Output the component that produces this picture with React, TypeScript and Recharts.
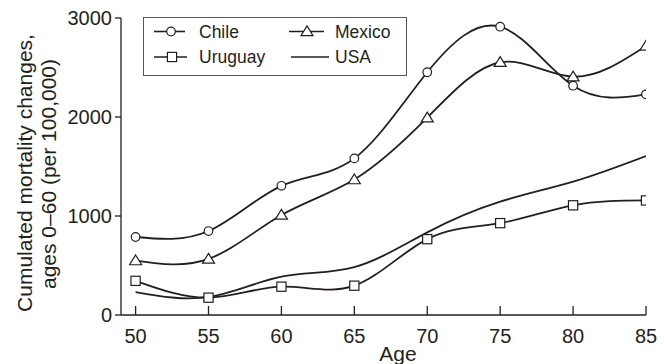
import React from 'react';
import { LineChart, Line, XAxis, YAxis } from 'recharts';

const ages = [50, 55, 60, 65, 70, 75, 80, 85];
const chile = [788, 848, 1305, 1582, 2452, 2912, 2316, 2229];
const mexico = [550, 566, 1010, 1368, 1993, 2553, 2407, 2717];
const uruguay = [345, 175, 286, 296, 766, 928, 1108, 1157];
const usa = [232, 182, 387, 484, 835, 1145, 1347, 1606];

const xTicks = [50, 55, 60, 65, 70, 75, 80, 85];
const yTicks = [0, 1000, 2000, 3000];
const seriesNames = ['Chile', 'Mexico', 'Uruguay', 'USA'];
const yLabelLines = ['Cumulated mortality changes,', 'ages 0\u201360 (per 100,000)'];
const xLabel = 'Age';

const FONT = '"Liberation Sans", Arial, Helvetica, sans-serif';
const INK = '#231f20';

const data = ages.map((age, i) => ({
  age,
  chile: chile[i],
  mexico: mexico[i],
  uruguay: uruguay[i],
  usa: usa[i],
}));

const CircleMark = ({ cx, cy }: any) => (
  <circle cx={cx} cy={cy} r={4.3} fill="#fff" stroke={INK} strokeWidth={1.2} />
);
const SquareMark = ({ cx, cy }: any) => (
  <rect x={cx - 4.6} y={cy - 4.6} width={9.2} height={9.2} fill="#fff" stroke={INK} strokeWidth={1.2} />
);
const TriangleMark = ({ cx, cy }: any) => {
  const h = 5.6;
  return (
    <polygon
      points={`${cx},${cy - h} ${cx + 6},${cy + h * 0.75} ${cx - 6},${cy + h * 0.75}`}
      fill="#fff"
      stroke={INK}
      strokeWidth={1.2}
    />
  );
};

const XTick = (props: any) => {
  const { x, y, payload } = props;
  return (
    <g>
      <line x1={x} y1={y} x2={x} y2={y - 9} stroke={INK} strokeWidth={1.3} />
      <text x={x} y={y + 28} textAnchor="middle" fontSize={20} fill={INK} fontFamily={FONT}>
        {payload.value}
      </text>
    </g>
  );
};

const YLabel = () => (
  <g>
    <text
      transform="translate(32,173) rotate(-90)"
      textAnchor="middle"
      fontSize={21}
      fill={INK}
      fontFamily={FONT}
    >
      {yLabelLines[0]}
    </text>
    <text
      transform="translate(56,174) rotate(-90)"
      textAnchor="middle"
      fontSize={21}
      fill={INK}
      fontFamily={FONT}
    >
      {yLabelLines[1]}
    </text>
  </g>
);

const XLabel = () => (
  <text x={398} y={361} textAnchor="middle" fontSize={21} fill={INK} fontFamily={FONT}>
    {xLabel}
  </text>
);

const LegendBox = () => {
  const r1 = 14.5;
  const r2 = 40;
  const fs = 17.5;
  const ty = 6;
  return (
    <svg width={265} height={60} style={{ display: 'block' }}>
      <rect x={0.5} y={0.5} width={263} height={58} fill="#fff" stroke="#555" strokeWidth={1} />
      <line x1={11} y1={r1} x2={42} y2={r1} stroke={INK} strokeWidth={1.6} />
      <CircleMark cx={28} cy={r1} />
      <text x={56} y={r1 + ty} fontSize={fs} fill={INK} fontFamily={FONT}>{seriesNames[0]}</text>
      <line x1={11} y1={r2} x2={44} y2={r2} stroke={INK} strokeWidth={1.6} />
      <SquareMark cx={29} cy={r2} />
      <text x={56} y={r2 + ty} fontSize={fs} fill={INK} fontFamily={FONT}>{seriesNames[2]}</text>
      <line x1={146} y1={r1} x2={181} y2={r1} stroke={INK} strokeWidth={1.6} />
      <TriangleMark cx={164} cy={r1} />
      <text x={192} y={r1 + ty} fontSize={fs} fill={INK} fontFamily={FONT}>{seriesNames[1]}</text>
      <line x1={148} y1={r2} x2={186} y2={r2} stroke={INK} strokeWidth={1.6} />
      <text x={192} y={r2 + ty} fontSize={fs} fill={INK} fontFamily={FONT}>{seriesNames[3]}</text>
    </svg>
  );
};

export default function App() {
  return (
    <div style={{ position: 'absolute', left: 0, top: 0, width: 664, height: 364, background: '#fff' }}>
      <LineChart
        width={664}
        height={364}
        data={data}
        margin={{ top: 18, right: 18, bottom: 0, left: 0 }}
        style={{ fontFamily: FONT }}
      >
        <XAxis
          dataKey="age"
          type="number"
          domain={[49, 85]}
          ticks={xTicks}
          allowDataOverflow
          height={49}
          tickSize={0}
          tickMargin={0}
          tickLine={false}
          tick={<XTick />}
          axisLine={{ stroke: INK, strokeWidth: 1.3 }}
          label={{ content: <XLabel /> }}
          interval={0}
        />
        <YAxis
          type="number"
          domain={[0, 3000]}
          ticks={yTicks}
          width={121}
          tickSize={6}
          tickMargin={3}
          tick={{ fontSize: 20, fill: INK, fontFamily: FONT }}
          tickLine={{ stroke: INK, strokeWidth: 1.3 }}
          axisLine={{ stroke: INK, strokeWidth: 1.3 }}
          label={{ content: <YLabel /> }}
          interval={0}
        />
        <Line
          dataKey="usa"
          type="natural"
          stroke={INK}
          strokeWidth={1.8}
          dot={false}
          isAnimationActive={false}
        />
        <Line
          dataKey="uruguay"
          type="natural"
          stroke={INK}
          strokeWidth={1.8}
          dot={(p: any) => <SquareMark key={`u${p.index}`} cx={p.cx} cy={p.cy} />}
          isAnimationActive={false}
        />
        <Line
          dataKey="mexico"
          type="natural"
          stroke={INK}
          strokeWidth={1.8}
          dot={(p: any) => <TriangleMark key={`m${p.index}`} cx={p.cx} cy={p.cy} />}
          isAnimationActive={false}
        />
        <Line
          dataKey="chile"
          type="natural"
          stroke={INK}
          strokeWidth={1.8}
          dot={(p: any) => <CircleMark key={`c${p.index}`} cx={p.cx} cy={p.cy} />}
          isAnimationActive={false}
        />
      </LineChart>
      <div style={{ position: 'absolute', left: 143, top: 17, width: 265, height: 60 }}>
        <LegendBox />
      </div>
    </div>
  );
}
